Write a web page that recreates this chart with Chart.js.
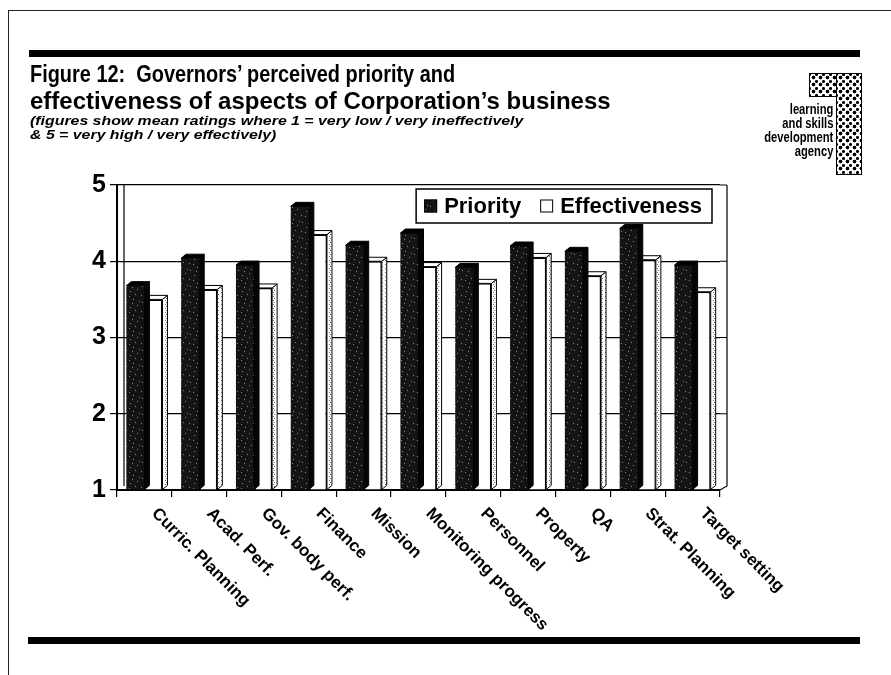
<!DOCTYPE html>
<html>
<head>
<meta charset="utf-8">
<title>Figure 12</title>
<script src="https://cdn.jsdelivr.net/npm/chart.js@4.4.1/dist/chart.umd.min.js"></script>
<style>
  body { margin: 0; background: #fff; }
  #page { position: relative; width: 891px; height: 675px; overflow: hidden; font-family: "Liberation Sans", Arial, sans-serif; color: #000; }
  #chart { position: absolute; left: 0; top: 0; }
  .frame { position: absolute; left: 8px; top: 10px; right: -4px; bottom: -4px; border-left: 1.5px solid #222; border-top: 1.5px solid #222; }
  .rule { position: absolute; background: #000; height: 7px; }
  .title { position: absolute; left: 30px; font-weight: bold; font-size: 24px; line-height: 27px; white-space: nowrap; transform-origin: left top; }
  .note { position: absolute; left: 30px; top: 115px; font-weight: bold; font-style: italic; font-size: 12.5px; line-height: 13.5px; white-space: nowrap; transform: scaleX(1.27); transform-origin: left top; }
  .logo-top { position: absolute; left: 809px; top: 73px; width: 51px; height: 22px; }
  .logo-side { position: absolute; left: 836px; top: 73px; width: 24px; height: 100px; }
  .dots { background-color: #fff; border: 1.5px solid #000;
    background-image: radial-gradient(circle, #000 1.6px, transparent 2.2px), radial-gradient(circle, #000 1.2px, transparent 1.8px);
    background-size: 7px 7px, 7px 7px; background-position: 0 0, 3px 4px; }
  .logo-text { position: absolute; right: 58px; top: 102px; text-align: right; font-weight: bold; font-size: 14px; line-height: 14px; transform: scaleX(0.8); transform-origin: right top; white-space: nowrap; }
</style>
</head>
<body>
<div id="page">
  <canvas id="chart" width="891" height="675"></canvas>
  <div class="frame"></div>
  <div class="rule" style="left:29px; top:50px; width:831px;"></div>
  <div class="rule" style="left:28px; top:637px; width:832px;"></div>
  <div class="title" style="top:60px; transform: scaleX(0.83);">Figure 12:&nbsp; Governors’ perceived priority and</div>
  <div class="title" style="top:87px;">effectiveness of aspects of Corporation’s business</div>
  <div class="note">(figures show mean ratings where 1 = very low / very ineffectively<br>&amp; 5 = very high / very effectively)</div>
  <div class="logo-top dots"></div>
  <div class="logo-side dots"></div>
  <div class="logo-text">learning<br>and skills<br>development<br>agency</div>
</div>
<script>
// mean ratings, 1 = very low / very ineffectively, 5 = very high / very effectively
const categories = ['Curric. Planning', 'Acad. Perf.', 'Gov. body perf.', 'Finance', 'Mission',
  'Monitoring progress', 'Personnel', 'Property', 'QA', 'Strat. Planning', 'Target setting'];
const priority = [3.68, 4.04, 3.95, 4.72, 4.21, 4.37, 3.92, 4.20, 4.13, 4.43, 3.95];
const effectiveness = [3.50, 3.63, 3.65, 4.35, 4.00, 3.93, 3.71, 4.05, 3.81, 4.02, 3.60];
const yTicks = [1, 2, 3, 4, 5];

const DX = 5, DY = 4, WALL = 7;

// dark speckled fill for the priority bars
function speckle() {
  const c = document.createElement('canvas');
  c.width = 16; c.height = 16;
  const g = c.getContext('2d');
  g.fillStyle = '#141414';
  g.fillRect(0, 0, 16, 16);
  g.fillStyle = '#8a8a8a';
  [[2, 3], [9, 1], [13, 7], [5, 11], [11, 13], [1, 8], [7, 6], [14, 14], [4, 15]].forEach(p => g.fillRect(p[0], p[1], 1, 1));
  return g.createPattern(c, 'repeat');
}

// dotted fill for the side face of the white bars
function dotted() {
  const c = document.createElement('canvas');
  c.width = 4; c.height = 4;
  const g = c.getContext('2d');
  g.fillStyle = '#fff';
  g.fillRect(0, 0, 4, 4);
  g.fillStyle = '#777';
  g.fillRect(1, 0, 1, 1);
  g.fillRect(2, 2, 1, 1);
  return g.createPattern(c, 'repeat');
}

const darkFill = speckle();
const sideFill = dotted();

// side and top faces give each bar some depth
const bar3d = {
  id: 'bar3d',
  afterDatasetDraw(chart, args) {
    const ctx = chart.ctx;
    const ds = chart.data.datasets[args.index];
    ctx.save();
    ctx.lineWidth = 1;
    ctx.strokeStyle = '#000';
    args.meta.data.forEach(bar => {
      const { x, y, base, width } = bar.getProps(['x', 'y', 'base', 'width'], true);
      const l = x - width / 2, r = x + width / 2;
      ctx.beginPath();
      ctx.moveTo(r, y);
      ctx.lineTo(r + DX, y - DY);
      ctx.lineTo(r + DX, base - DY);
      ctx.lineTo(r, base);
      ctx.closePath();
      ctx.fillStyle = ds.sideFill;
      ctx.fill();
      ctx.stroke();
      ctx.beginPath();
      ctx.moveTo(l, y);
      ctx.lineTo(l + DX, y - DY);
      ctx.lineTo(r + DX, y - DY);
      ctx.lineTo(r, y);
      ctx.closePath();
      ctx.fillStyle = ds.topFill;
      ctx.fill();
      ctx.stroke();
    });
    ctx.restore();
  }
};

// back wall edges behind the plot
const wall = {
  id: 'wall',
  beforeDatasetsDraw(chart) {
    const { ctx, chartArea: a, scales } = chart;
    ctx.save();
    ctx.strokeStyle = '#000';
    ctx.lineWidth = 1.2;
    ctx.beginPath();
    ctx.moveTo(a.left + WALL, a.top);
    ctx.lineTo(a.left + WALL, a.bottom - 4);
    ctx.moveTo(a.right + WALL, a.top);
    ctx.lineTo(a.right + WALL, a.bottom - 4);
    ctx.lineTo(a.right, a.bottom);
    yTicks.slice(1).forEach(v => {
      const py = scales.y.getPixelForValue(v);
      ctx.moveTo(a.right, py);
      ctx.lineTo(a.right + WALL, py);
    });
    ctx.stroke();
    ctx.restore();
  }
};

// slanted category names under the axis
const slantLabels = {
  id: 'slantLabels',
  afterDraw(chart) {
    const { ctx, chartArea: a, scales } = chart;
    ctx.save();
    ctx.font = 'bold 17px "Liberation Sans", Arial, sans-serif';
    ctx.fillStyle = '#000';
    ctx.textAlign = 'left';
    ctx.textBaseline = 'middle';
    categories.forEach((c, i) => {
      ctx.save();
      ctx.translate(scales.x.getPixelForValue(i) + 10, a.bottom + 21);
      ctx.rotate(Math.PI / 4);
      ctx.fillText(c, 0, 0);
      ctx.restore();
    });
    ctx.restore();
  }
};

// boxed legend in the top right corner of the plot
const boxLegend = {
  id: 'boxLegend',
  afterDraw(chart) {
    const { ctx, chartArea: a } = chart;
    const sets = chart.data.datasets;
    ctx.save();
    ctx.font = 'bold 22px "Liberation Sans", Arial, sans-serif';
    const padL = 8, padR = 10, sw = 13, gap = 7, between = 19;
    let w = padL + padR - between;
    sets.forEach(d => { w += sw + gap + ctx.measureText(d.label).width + between; });
    const h = 34;
    const right = a.right - 8, top = a.top + 4, left = right - w;
    ctx.fillStyle = '#fff';
    ctx.fillRect(left, top, w, h);
    ctx.strokeStyle = '#000';
    ctx.lineWidth = 1.5;
    ctx.strokeRect(left, top, w, h);
    let x = left + padL;
    const cy = top + h / 2;
    ctx.textBaseline = 'middle';
    sets.forEach(d => {
      ctx.fillStyle = d.backgroundColor;
      ctx.fillRect(x, cy - sw / 2, sw, sw);
      ctx.lineWidth = 1;
      ctx.strokeRect(x + 0.5, cy - sw / 2 + 0.5, sw - 1, sw - 1);
      x += sw + gap;
      ctx.fillStyle = '#000';
      ctx.fillText(d.label, x, cy + 1);
      x += ctx.measureText(d.label).width + between;
    });
    ctx.restore();
  }
};

new Chart(document.getElementById('chart'), {
  type: 'bar',
  data: {
    labels: categories,
    datasets: [{
      label: 'Priority',
      data: priority,
      base: 1,
      backgroundColor: darkFill,
      sideFill: '#050505',
      topFill: '#000',
      borderWidth: 0
    }, {
      label: 'Effectiveness',
      data: effectiveness,
      base: 1,
      backgroundColor: '#fff',
      sideFill: sideFill,
      topFill: '#fff',
      borderColor: '#000',
      borderWidth: 1.5
    }]
  },
  options: {
    responsive: false,
    animation: false,
    events: [],
    categoryPercentage: 0.66,
    barPercentage: 1,
    layout: { padding: { left: 0, top: 185, right: 171, bottom: 175 } },
    plugins: {
      legend: { display: false },
      tooltip: { enabled: false }
    },
    scales: {
      x: {
        grid: { display: true, drawOnChartArea: false, tickLength: 7, color: '#000', lineWidth: 1.2, offset: true },
        border: { display: true, color: '#000', width: 2 },
        ticks: { display: false },
        afterFit: s => { s.height = 10; }
      },
      y: {
        min: 1,
        max: 5,
        afterBuildTicks: s => { s.ticks = yTicks.map(v => ({ value: v })); },
        grid: { color: '#000', lineWidth: 1.2, tickLength: 7 },
        border: { display: true, color: '#000', width: 2 },
        ticks: { color: '#000', padding: 4, font: { family: '"Liberation Sans", Arial, sans-serif', size: 25, weight: 'bold' } },
        afterFit: s => { s.width = 117; }
      }
    }
  },
  plugins: [wall, bar3d, slantLabels, boxLegend]
});
</script>
</body>
</html>
